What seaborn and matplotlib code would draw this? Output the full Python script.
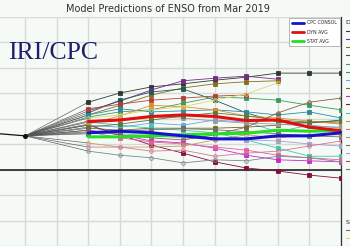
import numpy as np
import matplotlib
matplotlib.use('Agg')
import matplotlib.pyplot as plt
from matplotlib.lines import Line2D
import seaborn as sns

nan = np.nan

# observed Nino3.4 (months relative to the start month)
obs_x = [-1, 0]
obs_y = [0.71, 0.66]

# forecast months (first season centred two months after the start)
leads = [2, 3, 4, 5, 6, 7, 8, 9, 10]

dyn_names = ['NASA GMAO', 'NCEP CFSv2', 'JMA', 'BCC_CSM11m', 'SCRIPPS', 'LDEO',
             'AUS/POAMA', 'ECMWF', 'UKMO', 'KMA SNU', 'IOCAS ICM', 'COLA CCSM4',
             'MetFRANCE', 'SINTEX-F', 'CS-IRI-MM', 'GFDL CM2.1', 'CMC CANSIP',
             'GFDL FLOR']
dyn_colors = ['#2e3b2e', '#7a2a8a', '#8a6a20', '#1f5a5a', '#3a9a5a', '#2a8aa0',
              '#60a8e8', '#6a6a2a', '#c828c8', '#80103a', '#40c8a0', '#e08a30',
              '#e060a0', '#9a9a9a', '#5a7a3a', '#a0a0d0', '#b04040', '#707070']
dyn_vals = [
    [1.32, 1.50, 1.62, 1.68, 1.75, 1.81, 1.89, 1.89, 1.89],
    [1.15, 1.34, 1.56, 1.74, 1.79, 1.83, 1.77, nan, nan],
    [1.07, 1.26, 1.46, 1.60, 1.68, 1.72, 1.74, nan, nan],
    [1.11, 1.36, 1.52, 1.58, 1.36, 1.11, 0.93, 0.91, 0.97],
    [1.03, 1.13, 1.17, 1.30, 1.42, 1.40, 1.36, 1.26, 1.17],
    [1.07, 1.19, 1.13, 1.15, 1.17, 1.13, 1.07, 1.13, 1.01],
    [0.87, 0.83, 0.91, 0.87, 0.97, 0.93, 0.74, 0.87, 0.81],
    [0.81, 0.77, 0.81, 0.81, 0.81, 0.83, 0.87, 0.93, 0.91],
    [0.77, 0.68, 0.56, 0.52, 0.42, 0.28, 0.19, 0.17, 0.15],
    [0.87, 0.68, 0.48, 0.32, 0.15, 0.03, -0.03, -0.11, -0.17],
    [0.93, 0.87, 0.81, 0.77, 0.72, 0.58, 0.42, 0.26, 0.26],
    [0.89, 1.05, 1.26, 1.23, 1.17, 1.05, 1.01, 0.95, 0.89],
    [0.74, 0.62, 0.54, 0.50, 0.44, 0.38, 0.28, 0.23, 0.19],
    [0.95, 0.99, 1.03, 1.01, 0.95, 0.91, 0.89, 0.85, 0.83],
    [0.83, 0.89, 0.97, 1.05, 1.11, 1.05, 0.97, 0.93, 0.95],
    [0.72, 0.70, 0.66, 0.62, 0.60, 0.58, 0.56, 0.50, 0.46],
    [1.19, 1.28, 1.36, 1.40, 1.44, 1.46, nan, nan, nan],
    [0.70, 0.74, 0.78, 0.80, 0.78, 0.74, 0.70, 0.66, 0.64],
]

stat_names = ['CPC MRKOV', 'CDC LIM', 'CPC CA', 'CSU CLIPR', 'UBC NNET']
stat_colors = ['#8a6040', '#d8d870', '#c89a60', '#d07898', '#7a8a8a']
stat_vals = [
    [0.77, 0.68, 0.62, 0.58, 0.68, 0.83, 1.11, 1.32, 1.40],
    [1.01, 1.07, 1.17, 1.23, 1.36, 1.48, 1.70, nan, nan],
    [0.52, 0.44, 0.44, 0.46, 0.58, 0.68, 0.62, 0.68, 0.68],
    [0.44, 0.44, 0.36, 0.38, 0.26, 0.32, 0.36, 0.46, 0.56],
    [0.36, 0.28, 0.23, 0.13, 0.19, 0.17, 0.26, 0.23, 0.15],
]

cpc_consol = [0.72, 0.75, 0.72, 0.66, 0.60, 0.60, 0.66, 0.66, 0.72]
dyn_avg = [0.94, 0.97, 1.04, 1.07, 1.04, 0.96, 0.97, 0.83, 0.76]
stat_avg = [0.64, 0.64, 0.66, 0.68, 0.70, 0.71, 0.77, 0.75, 0.77]

sns.set_style('whitegrid')
plt.rcParams['font.family'] = ['DejaVu Sans']

bg = '#f6faf6'
fig = plt.figure(figsize=(3.5, 2.46), dpi=100, facecolor=bg)
# the screenshot is cropped: axes run past the left and bottom edges
ax = fig.add_axes([-69.65 / 350, 1 - 297 / 246, 410.65 / 350, 280.5 / 246])
ax.set_facecolor(bg)
ax.set_xlim(-3, 10)
ax.set_ylim(-2.5, 3.0)
ax.set_xticks(range(-3, 11))
ax.set_yticks(np.arange(-2.5, 3.01, 0.5))
ax.tick_params(labelbottom=False, labelleft=False, length=0)
ax.grid(True, color='#d6dad6', linewidth=1.0)
for s in ['top', 'left', 'bottom']:
    ax.spines[s].set_visible(False)
ax.spines['right'].set_color('#333333')
ax.spines['right'].set_linewidth(0.9)
ax.axhline(0, color='#222222', linewidth=1.2, zorder=2)

# observations
sns.lineplot(x=obs_x, y=obs_y, ax=ax, color='#111111', linewidth=0.9, zorder=5)
ax.plot(obs_x[-1], obs_y[-1], 'o', color='#111111', markersize=2.6, zorder=6)

def draw_model(vals, color, marker, filled):
    vals = np.array(vals, dtype=float)
    ok = ~np.isnan(vals)
    x = np.array(leads)[ok]
    y = vals[ok]
    sns.lineplot(x=[obs_x[-1], x[0]], y=[obs_y[-1], y[0]], ax=ax,
                 color='#555555', linewidth=0.45, zorder=3)
    sns.lineplot(x=x, y=y, ax=ax, color=color, linewidth=0.6, zorder=3,
                 marker=marker, markersize=2.6, markeredgewidth=0.6,
                 markeredgecolor=color,
                 markerfacecolor=color if filled else 'none')

for vals, c in zip(dyn_vals, dyn_colors):
    draw_model(vals, c, 's', True)
for vals, c in zip(stat_vals, stat_colors):
    draw_model(vals, c, 'o', False)

sns.lineplot(x=leads, y=stat_avg, ax=ax, color='#22e022', linewidth=2.2, zorder=7)
sns.lineplot(x=leads, y=dyn_avg, ax=ax, color='#e01010', linewidth=2.2, zorder=7)
sns.lineplot(x=leads, y=cpc_consol, ax=ax, color='#1414d0', linewidth=2.2, zorder=8)

avg_handles = [Line2D([], [], color='#1414d0', lw=2.0, label='CPC CONSOL'),
               Line2D([], [], color='#e01010', lw=2.0, label='DYN AVG'),
               Line2D([], [], color='#22e022', lw=2.0, label='STAT AVG')]
leg = ax.legend(handles=avg_handles, loc='upper right', fontsize=3.3,
                handlelength=2.8, handletextpad=0.6, labelspacing=0.9,
                borderpad=0.6, borderaxespad=0.25, frameon=True, fancybox=False,
                facecolor='white', edgecolor='#aaaaaa', framealpha=1)
leg.get_frame().set_linewidth(0.6)

dyn_handles = [Line2D([], [], color=c, lw=0.8, label=n)
               for n, c in zip(dyn_names, dyn_colors)]
stat_handles = [Line2D([], [], color=c, lw=0.8, label=n)
                for n, c in zip(stat_names, stat_colors)]
fig.legend(handles=dyn_handles, title='DYNAMICAL MODEL:', loc='upper left',
           bbox_to_anchor=(343 / 350, 1 - 18 / 246), fontsize=3.6,
           title_fontsize=4.5, frameon=False, handlelength=1.5,
           labelspacing=0.62, borderpad=0, alignment='left')
fig.legend(handles=stat_handles, title='STATISTICAL MODEL:', loc='upper left',
           bbox_to_anchor=(343 / 350, 1 - 217 / 246), fontsize=3.6,
           title_fontsize=4.5, frameon=False, handlelength=1.5,
           labelspacing=0.62, borderpad=0, alignment='left')

fig.text(168 / 350, 1 - 9 / 246, 'Model Predictions of ENSO from Mar 2019',
         ha='center', va='center', fontsize=7, color='#303030')
fig.text(8 / 350, 1 - 53 / 246, 'IRI/CPC', ha='left', va='center',
         fontsize=18.5, color='#1c1c6a', family=['Liberation Serif', 'DejaVu Serif'])

fig.savefig('out.png', dpi=100, facecolor=bg)
